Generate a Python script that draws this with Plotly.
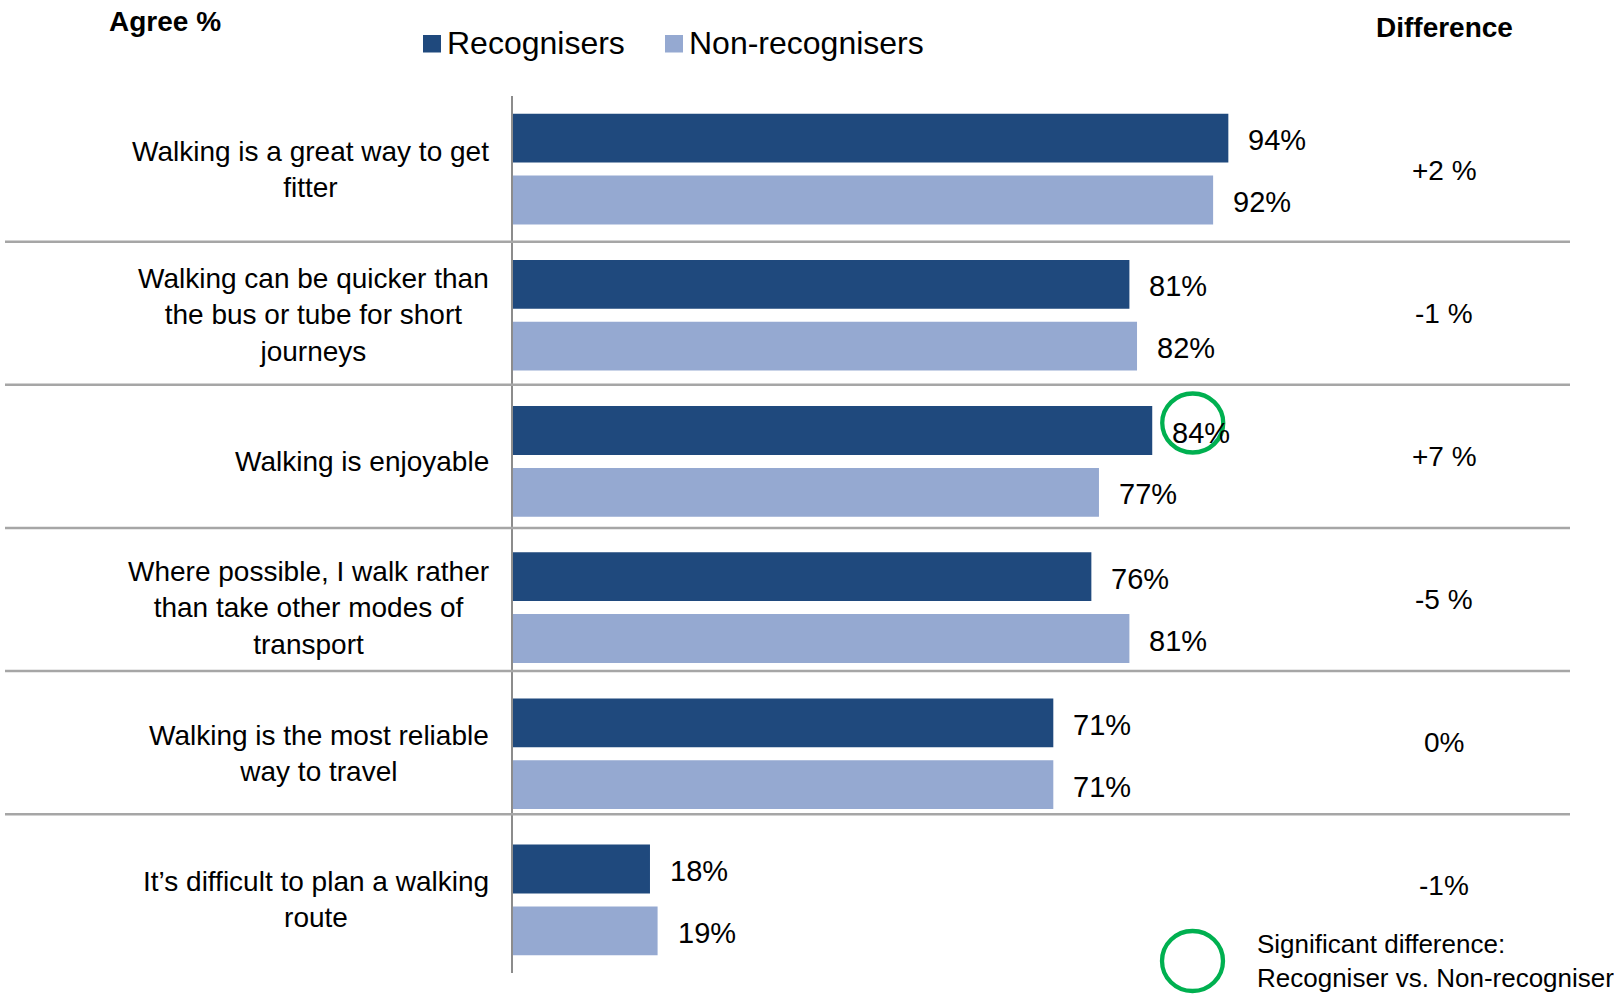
import plotly.graph_objects as go

# ---- data -------------------------------------------------------------
categories = [
    "Walking is a great way to get<br>fitter",
    "Walking can be quicker than<br>the bus or tube for short<br>journeys",
    "Walking is enjoyable",
    "Where possible, I walk rather<br>than take other modes of<br>transport",
    "Walking is the most reliable<br>way to travel",
    "It’s difficult to plan a walking<br>route",
]
recognisers = [94, 81, 84, 76, 71, 18]
non_recognisers = [92, 82, 77, 81, 71, 19]
difference_labels = ["+2 %", "-1 %", "+7 %", "-5 %", "0%", "-1%"]
significant = [False, False, True, False, False, False]

series_names = ["Recognisers", "Non-recognisers"]
series_colors = ["#1F497D", "#95A9D1"]

# ---- geometry ---------------------------------------------------------
W, H = 1614, 994
L, R, T, B = 513, 44, 96, 21
PW, PH = W - L - R, H - T - B
X_MAX = PW / 7.61          # 7.61 px per percentage point

BAR_W = 0.334
BAR_GAP = 0.089
OFF_TOP = -(BAR_W + BAR_GAP / 2)
OFF_BOT = BAR_GAP / 2
CENTER_SHIFT = BAR_W / 2 + BAR_GAP / 2

FONT = "Liberation Sans, Arial, sans-serif"
GREEN = "#00B050"


def px_x(px):
    return (px - L) / PW


def px_y(py):
    return (H - B - py) / PH


pos = list(range(len(categories)))

fig = go.Figure()
fig.add_trace(go.Bar(
    x=recognisers, y=pos, orientation="h", name=series_names[0],
    marker=dict(color=series_colors[0], line=dict(width=0)),
    width=BAR_W, offset=OFF_TOP, showlegend=False, hoverinfo="x+name",
))
fig.add_trace(go.Bar(
    x=non_recognisers, y=pos, orientation="h", name=series_names[1],
    marker=dict(color=series_colors[1], line=dict(width=0)),
    width=BAR_W, offset=OFF_BOT, showlegend=False, hoverinfo="x+name",
))

annotations = []
shapes = []

# value labels next to each bar
for i in pos:
    for vals, dy in ((recognisers, -CENTER_SHIFT), (non_recognisers, CENTER_SHIFT)):
        annotations.append(dict(
            x=vals[i], y=i + dy, xref="x", yref="y", text=f"{vals[i]}%",
            showarrow=False, xanchor="left", yanchor="middle", xshift=18, yshift=-2,
            font=dict(family=FONT, size=29, color="#000000"),
        ))

# category labels, centred lines, right edge near the axis
for i, cat in enumerate(categories):
    annotations.append(dict(
        x=0, y=i, xref="paper", yref="y", text=cat, showarrow=False,
        xanchor="right", yanchor="middle", align="center", xshift=-22, yshift=0,
        font=dict(family=FONT, size=28, color="#000000"),
    ))

# difference column and row separators (table rows on y2)
for i, lab in enumerate(difference_labels):
    annotations.append(dict(
        x=px_x(1444), y=i, xref="paper", yref="y2", text=lab, showarrow=False,
        xanchor="center", yanchor="middle",
        font=dict(family=FONT, size=28, color="#000000"),
    ))
for i in range(len(categories) - 1):
    shapes.append(dict(
        type="line", xref="paper", yref="y2", x0=px_x(5), x1=1.0, y0=i + 0.5, y1=i + 0.5,
        line=dict(color="#A6A6A6", width=2.5),
    ))

# significance rings around flagged recogniser labels
for i, flag in enumerate(significant):
    if flag:
        shapes.append(dict(
            type="circle", xref="x", yref="y", xsizemode="pixel", ysizemode="pixel",
            xanchor=recognisers[i], yanchor=i - CENTER_SHIFT,
            x0=10, x1=71, y0=-22, y1=37,
            line=dict(color=GREEN, width=4.3),
        ))

# headers
annotations.append(dict(
    x=px_x(165), y=px_y(21), xref="paper", yref="paper", text="<b>Agree %</b>",
    showarrow=False, xanchor="center", yanchor="middle",
    font=dict(family=FONT, size=28, color="#000000"),
))
annotations.append(dict(
    x=px_x(1444), y=px_y(28), xref="paper", yref="paper", text="<b>Difference</b>",
    showarrow=False, xanchor="center", yanchor="middle",
    font=dict(family=FONT, size=28, color="#000000"),
))

# series legend
legend_items = [(423, series_names[0], series_colors[0]), (665, series_names[1], series_colors[1])]
for left, name, color in legend_items:
    shapes.append(dict(
        type="rect", xref="paper", yref="paper",
        x0=px_x(left), x1=px_x(left + 18), y0=px_y(52.5), y1=px_y(35),
        fillcolor=color, line=dict(width=0),
    ))
    annotations.append(dict(
        x=px_x(left + 22), y=px_y(43), xref="paper", yref="paper", text=name,
        showarrow=False, xanchor="left", yanchor="middle",
        font=dict(family=FONT, size=32, color="#000000"),
    ))

# significance key
shapes.append(dict(
    type="circle", xref="paper", yref="paper",
    x0=px_x(1162), x1=px_x(1223), y0=px_y(991), y1=px_y(931),
    line=dict(color=GREEN, width=4.3),
))
annotations.append(dict(
    x=px_x(1255), y=px_y(961), xref="paper", yref="paper",
    text="Significant difference:<br>Recogniser vs. Non-recogniser",
    showarrow=False, xanchor="left", yanchor="middle", align="left",
    font=dict(family=FONT, size=26, color="#000000"),
))

fig.update_layout(
    width=W, height=H,
    margin=dict(l=L, r=R, t=T, b=B, pad=0),
    paper_bgcolor="#FFFFFF", plot_bgcolor="#FFFFFF",
    barmode="overlay",
    xaxis=dict(range=[0, X_MAX], visible=False, fixedrange=True),
    yaxis=dict(
        range=[len(categories) - 0.5, -0.5], showline=True, linecolor="#8C8C8C",
        linewidth=2, showticklabels=False, ticks="", showgrid=False, zeroline=False,
        fixedrange=True,
    ),
    yaxis2=dict(
        range=[5.610, -0.518], overlaying="y", visible=False, fixedrange=True,
    ),
    annotations=annotations,
    shapes=shapes,
    showlegend=False,
)

fig.write_html("out.html")
